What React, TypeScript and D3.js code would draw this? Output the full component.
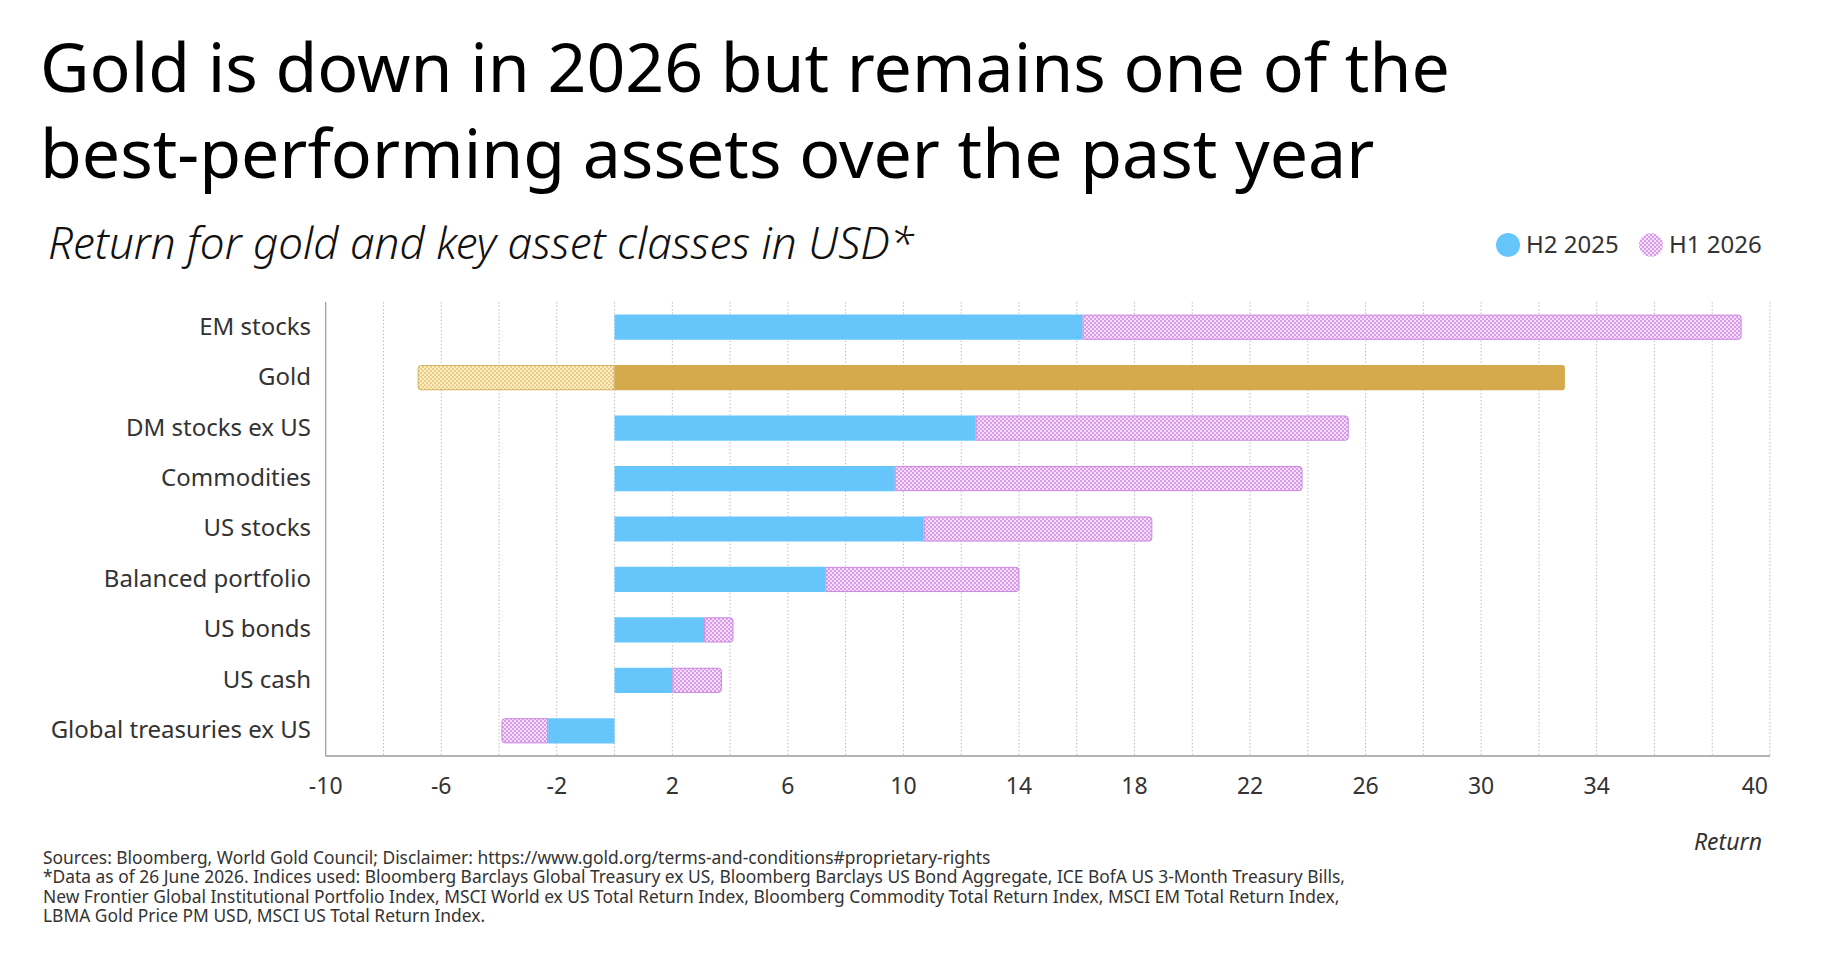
import React from 'react'
import * as d3 from 'd3'

const categories = [
  'EM stocks',
  'Gold',
  'DM stocks ex US',
  'Commodities',
  'US stocks',
  'Balanced portfolio',
  'US bonds',
  'US cash',
  'Global treasuries ex US',
]
// segment lengths, stacked from zero
const h2_2025 = [16.2, 32.9, 12.5, 9.7, 10.7, 7.3, 3.1, 2.0, -2.3]
const h1_2026 = [22.8, -6.8, 12.9, 14.1, 7.9, 6.7, 1.0, 1.7, -1.6]

const seriesNames = ['H2 2025', 'H1 2026']
const tickValues = [-10, -6, -2, 2, 6, 10, 14, 18, 22, 26, 30, 34]
const lastTick = 40

const titleLines = [
  'Gold is down in 2026 but remains one of the',
  'best-performing assets over the past year',
]
const subtitle = 'Return for gold and key asset classes in USD*'
const footnotes = [
  'Sources: Bloomberg, World Gold Council; Disclaimer: https://www.gold.org/terms-and-conditions#proprietary-rights',
  '*Data as of 26 June 2026. Indices used: Bloomberg Barclays Global Treasury ex US, Bloomberg Barclays US Bond Aggregate, ICE BofA US 3-Month Treasury Bills,',
  'New Frontier Global Institutional Portfolio Index, MSCI World ex US Total Return Index, Bloomberg Commodity Total Return Index, MSCI EM Total Return Index,',
  'LBMA Gold Price PM USD, MSCI US Total Return Index.',
]

const W = 1840
const H = 960
const font = '"Noto Sans", "Open Sans", sans-serif'
const textColor = '#333333'
const blue = '#66c6fc'
const gold = '#d5aa4c'

// rect with rounded corners only on one side
function segPath(xa: number, xb: number, y: number, h: number, roundLeft: boolean, roundRight: boolean) {
  const x0 = Math.min(xa, xb)
  const x1 = Math.max(xa, xb)
  const r = Math.min(3, (x1 - x0) / 2)
  const rl = roundLeft ? r : 0
  const rr = roundRight ? r : 0
  const p = d3.path()
  p.moveTo(x0 + rl, y)
  p.lineTo(x1 - rr, y)
  if (rr) p.arcTo(x1, y, x1, y + rr, rr)
  p.lineTo(x1, y + h - rr)
  if (rr) p.arcTo(x1, y + h, x1 - rr, y + h, rr)
  p.lineTo(x0 + rl, y + h)
  if (rl) p.arcTo(x0, y + h, x0, y + h - rl, rl)
  p.lineTo(x0, y + rl)
  if (rl) p.arcTo(x0, y, x0 + rl, y, rl)
  p.closePath()
  return p.toString()
}

export default function App() {
  const x = d3.scaleLinear().domain([-10, 40]).range([325.7, 1770])
  const y = d3.scaleBand<string>()
    .domain(categories)
    .range([302, 756])
    .paddingInner(0.5)
    .paddingOuter(0.25)
  const bw = y.bandwidth()
  const gridValues = d3.range(-8, 41, 2)

  const bars = categories.map((c, i) => {
    const a = h2_2025[i]
    const b = h1_2026[i]
    const isGold = c === 'Gold'
    const y0 = y(c)!
    const sameSign = Math.sign(a) === Math.sign(b)
    const bStart = sameSign ? a : 0
    const bEnd = bStart + b
    return (
      <g key={c}>
        <path
          d={segPath(x(0), x(a), y0, bw, a < 0 && !sameSign, a > 0 && !sameSign)}
          fill={isGold ? gold : blue}
        />
        <path
          d={segPath(x(bStart) + (b > 0 ? 0.5 : -0.5), x(bEnd), y0 + 0.5, bw - 1, b < 0, b > 0)}
          fill={isGold ? 'url(#pat-gold)' : 'url(#pat-pink)'}
          stroke={isGold ? '#d3b060' : '#c98ae0'}
          strokeWidth={1}
        />
      </g>
    )
  })

  return (
    <svg width={W} height={H} style={{ position: 'absolute', left: 0, top: 0, background: '#fff' }} fontFamily={font}>
      <defs>
        <pattern id="pat-pink" width={4} height={4} patternUnits="userSpaceOnUse">
          <rect width={4} height={4} fill="#f7dcfa" />
          <circle cx={1} cy={1} r={1} fill="#cd88e2" />
          <circle cx={3} cy={3} r={1} fill="#cd88e2" />
        </pattern>
        <pattern id="pat-gold" width={4} height={4} patternUnits="userSpaceOnUse">
          <rect width={4} height={4} fill="#fcefc4" />
          <circle cx={1} cy={1} r={1} fill="#e4c272" />
          <circle cx={3} cy={3} r={1} fill="#e4c272" />
        </pattern>
      </defs>
      <rect width={W} height={H} fill="#fff" />

      {titleLines.map((t, i) => (
        <text key={t} x={40} y={92 + i * 86} fontSize={68} fill="#000">{t}</text>
      ))}
      <text x={48} y={259} fontSize={44} fontStyle="italic" fontWeight={300} fill="#111">{subtitle}</text>

      {/* legend */}
      <circle cx={1508} cy={245} r={12} fill={blue} />
      <text x={1526} y={245} dy="0.35em" fontSize={24} fill={textColor}>{seriesNames[0]}</text>
      <circle cx={1651} cy={245} r={12} fill="url(#pat-pink)" />
      <text x={1669} y={245} dy="0.35em" fontSize={24} fill={textColor}>{seriesNames[1]}</text>

      {/* grid */}
      {gridValues.map(v => (
        <line key={v} x1={x(v)} x2={x(v)} y1={302} y2={756} stroke="#bdbdbd" strokeWidth={1} strokeDasharray="1.5,2" />
      ))}

      {bars}

      {/* axes */}
      <line x1={x(-10)} x2={x(-10)} y1={302} y2={756} stroke="#9a9a9a" strokeWidth={1.2} />
      <line x1={x(-10)} x2={x(40)} y1={756} y2={756} stroke="#9a9a9a" strokeWidth={1.5} />

      {categories.map(c => (
        <text key={c} x={311} y={y(c)! + bw / 2 - 1} dy="0.35em" textAnchor="end" fontSize={24} fill={textColor}>{c}</text>
      ))}

      {tickValues.map(v => (
        <text key={v} x={x(v)} y={786} dy="0.35em" textAnchor="middle" fontSize={23} fill={textColor}>{v}</text>
      ))}
      <text x={x(lastTick) - 2} y={786} dy="0.35em" textAnchor="end" fontSize={23} fill={textColor}>{lastTick}</text>

      <text x={1762} y={842} dy="0.35em" textAnchor="end" fontSize={23} fontStyle="italic" fill={textColor}>Return</text>

      {footnotes.map((f, i) => (
        <text key={i} x={43} y={864 + i * 19.4} fontSize={17.4} fill={textColor}>{f}</text>
      ))}
    </svg>
  )
}
